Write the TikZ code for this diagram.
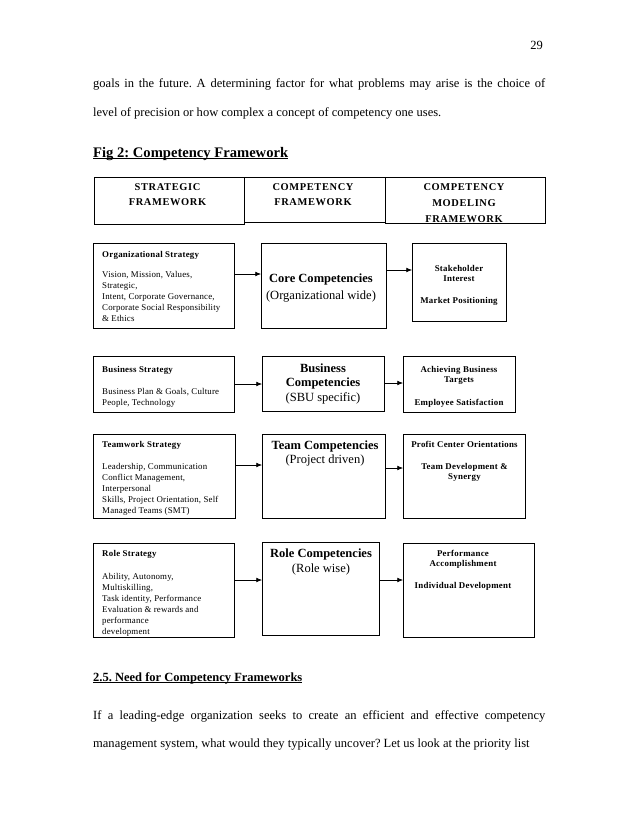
\documentclass[tikz,border=0pt]{standalone}
\usepackage{fontspec}
\setmainfont{Liberation Serif}
\newfontfamily\lsA[LetterSpace=2]{Liberation Serif}
\newfontfamily\lsB[LetterSpace=3]{Liberation Serif}
\newfontfamily\lsH[LetterSpace=6]{Liberation Serif}
\usetikzlibrary{arrows.meta}
\newlength\ulw
\newcommand\ulx[1]{\settowidth{\ulw}{#1}\rlap{\rule[-1.9pt]{\ulw}{0.85pt}}#1}
\newcommand\mybox[5]{\node[box, minimum width=#4*0.9592pt, minimum height=#5*0.9592pt] (#1) at (#2,#3) {};}
\frenchspacing
\begin{document}
\begin{tikzpicture}[x=0.9592pt,y=-0.9592pt,
  box/.style={draw=black, line width=0.7pt, inner sep=0pt, anchor=north west},
  arr/.style={-{Latex[length=5.5pt,width=4.5pt]}, line width=0.6pt},
  lefttxt/.style={anchor=north west, inner sep=0pt, align=left, font=\lsA\fontsize{8.5}{10.55}\selectfont},
  midtxt/.style={anchor=north, inner sep=0pt, align=center},
  righttxt/.style={anchor=north, inner sep=0pt, align=center, font=\lsB\bfseries\fontsize{8.5}{10}\selectfont},
  hdrtxt/.style={anchor=north, inner sep=0pt, align=center, font=\lsH\bfseries\fontsize{10}{14.4}\selectfont},
  bodytxt/.style={anchor=base west, inner sep=0pt, font=\fontsize{12}{14}\selectfont},
]
\useasboundingbox[fill=white] (0,0) rectangle (638,826);

% running text
\node[anchor=base east, inner sep=0pt, font=\fontsize{12}{14}\selectfont] (pg) at (543,49) {29};
\node[bodytxt] (p1) at (93,87) {\makebox[433.6pt][s]{goals in the future. A determining factor for what problems may arise is the choice of}};
\node[bodytxt] (p2) at (93,116) {level of precision or how complex a concept of competency one uses.};
\node[bodytxt, font=\bfseries\fontsize{14}{16}\selectfont] (fig) at (93,157) {\ulx{Fig 2: Competency Framework}};
\node[bodytxt, font=\bfseries\fontsize{12}{14}\selectfont] (sec) at (93,681) {\ulx{2.5. Need for Competency Frameworks}};
\node[bodytxt] (q1) at (93,719) {\makebox[433.6pt][s]{If a leading-edge organization seeks to create an efficient and effective competency}};
\node[bodytxt] (q2) at (93,747) {management system, what would they typically uncover? Let us look at the priority list};

% header boxes
\mybox{H1}{94}{177}{150}{47}
\mybox{H2}{244}{177}{141}{45}
\mybox{H3}{385}{177}{160}{46}
\node[hdrtxt] (h1t) at (167.5,183.6) {STRATEGIC\\FRAMEWORK};
\node[hdrtxt] (h2t) at (313,183.6) {COMPETENCY\\FRAMEWORK};
\node[hdrtxt, font=\lsH\bfseries\fontsize{10}{15.4}\selectfont] (h3t) at (464,183.6) {COMPETENCY\\MODELING\\FRAMEWORK};

% row 1
\mybox{L1}{93}{243}{141}{85}
\mybox{M1}{261}{243}{125}{85}
\mybox{R1}{412}{243}{94}{78}
\node[lefttxt] (l1t) at (102,250.8) {{\lsB\bfseries Organizational Strategy}\\[8.6pt]Vision, Mission, Values,\\Strategic,\\Intent, Corporate Governance,\\Corporate Social Responsibility\\\& Ethics};
\node[midtxt, font=\fontsize{12}{13}\selectfont] (m1t) at (321,273.5) {\textbf{Core Competencies}\\[3.3pt](Organizational wide)};
\node[righttxt] (r1t) at (459,264.8) {Stakeholder\\Interest\\[11.1pt]Market Positioning};
\draw[arr] (L1.east |- 0,274) -- (M1.west |- 0,274);
\draw[arr] (M1.east |- 0,270) -- (R1.west |- 0,270);

% row 2
\mybox{L2}{93}{356}{141}{56}
\mybox{M2}{262}{356}{122}{55}
\mybox{R2}{403}{356}{112}{56}
\node[lefttxt] (l2t) at (102,365.8) {{\lsB\bfseries Business Strategy}\\[10.5pt]Business Plan \& Goals, Culture\\People, Technology};
\node[midtxt, font=\fontsize{12}{14}\selectfont] (m2t) at (323,363.5) {\textbf{Business}\\\textbf{Competencies}\\(SBU specific)};
\node[righttxt] (r2t) at (459,365.8) {Achieving Business\\Targets\\[12pt]Employee Satisfaction};
\draw[arr] (L2.east |- 0,384) -- (M2.west |- 0,384);
\draw[arr] (M2.east |- 0,383) -- (R2.west |- 0,383);

% row 3
\mybox{L3}{93}{434}{142}{84}
\mybox{M3}{262}{434}{123}{84}
\mybox{R3}{403}{434}{122}{84}
\node[lefttxt] (l3t) at (102,440.8) {{\lsB\bfseries Teamwork Strategy}\\[10.5pt]Leadership, Communication\\Conflict Management,\\Interpersonal\\Skills, Project Orientation, Self\\Managed Teams (SMT)};
\node[midtxt, font=\fontsize{12}{13.2}\selectfont] (m3t) at (325,441) {\textbf{Team Competencies}\\(Project driven)};
\node[righttxt] (r3t) at (464.5,440.8) {Profit Center Orientations\\[11.1pt]Team Development \&\\Synergy};
\draw[arr] (L3.east |- 0,465) -- (M3.west |- 0,465);
\draw[arr] (M3.east |- 0,468) -- (R3.west |- 0,468);

% row 4
\mybox{L4}{93}{543}{141}{94}
\mybox{M4}{262}{542}{117}{93}
\mybox{R4}{403}{543}{131}{94}
\node[lefttxt] (l4t) at (102,549.8) {{\lsB\bfseries Role Strategy}\\[11.5pt]Ability, Autonomy,\\Multiskilling,\\Task identity, Performance\\Evaluation \& rewards and\\performance\\development};
\node[midtxt, font=\fontsize{12}{14.4}\selectfont] (m4t) at (321,548.5) {\textbf{Role Competencies}\\(Role wise)};
\node[righttxt] (r4t) at (463,549.8) {Performance\\Accomplishment\\[11.1pt]Individual Development};
\draw[arr] (L4.east |- 0,580) -- (M4.west |- 0,580);
\draw[arr] (M4.east |- 0,580) -- (R4.west |- 0,580);
\end{tikzpicture}
\end{document}
